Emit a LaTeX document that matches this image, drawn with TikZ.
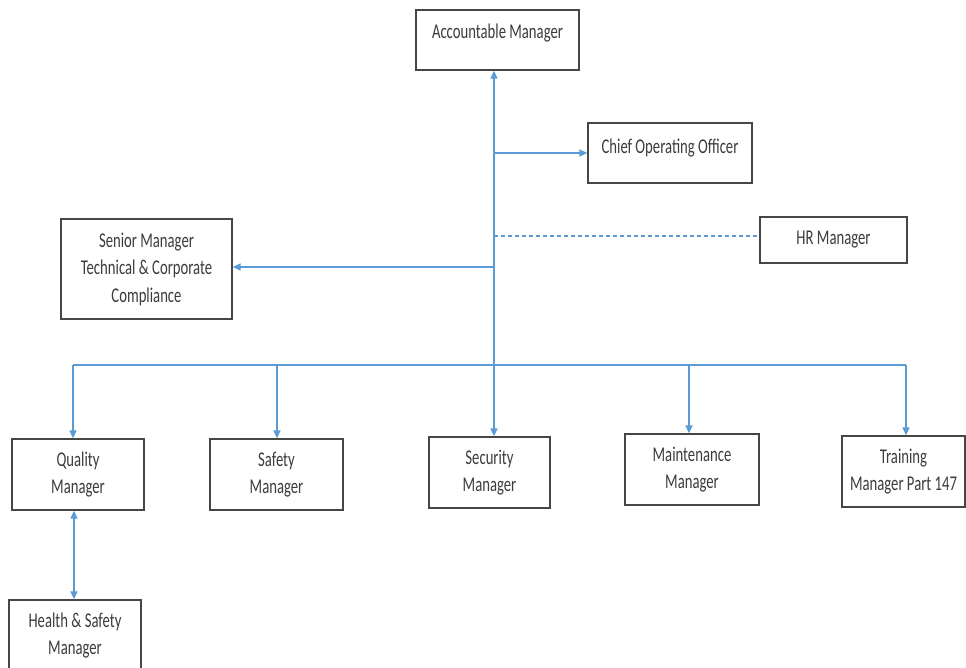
\documentclass[tikz,border=0pt]{standalone}
\usepackage{fontspec}
\setmainfont{Carlito}[FakeStretch=0.7]
\usetikzlibrary{arrows.meta}
\definecolor{flowblue}{RGB}{91,155,213}
\definecolor{boxgray}{RGB}{70,70,70}
\definecolor{txtgray}{RGB}{60,60,60}
\tikzset{
  orgbox/.style={draw=boxgray, line width=1.3pt, fill=white, text=txtgray,
    font=\fontsize{21}{27.5}\selectfont, align=center, inner sep=0pt},
  flow/.style={draw=flowblue, line width=1.4pt, -{Triangle[length=8pt,width=7pt]}},
  flowboth/.style={draw=flowblue, line width=1.4pt, {Triangle[length=8pt,width=7pt]}-{Triangle[length=8pt,width=7pt]}},
  flowplain/.style={draw=flowblue, line width=1.2pt},
  flowdash/.style={draw=flowblue, line width=1.2pt, dash pattern=on 4pt off 3pt}
}
\begin{document}
\begin{tikzpicture}[x=1pt,y=-1pt]
\useasboundingbox (0,0) rectangle (966,668);
\fill[white] (0,0) rectangle (966,668);

% boxes
\node[orgbox, minimum width=163pt, minimum height=60pt, text height=14pt, text depth=17.4pt] (am) at (497.5,40) {Accountable Manager};
\node[orgbox, minimum width=164pt, minimum height=60pt, text height=14pt, text depth=12pt] (coo) at (670,153) {Chief Operating Officer};
\node[orgbox, minimum width=147pt, minimum height=46pt, text height=14pt, text depth=5pt] (hr) at (833.5,240) {HR Manager};
\node[orgbox, minimum width=171pt, minimum height=100pt] (sm) at (146.5,269) {Senior Manager\\Technical \& Corporate\\Compliance};
\node[orgbox, minimum width=132pt, minimum height=71pt] (qm) at (78,474.5) {Quality\\Manager};
\node[orgbox, minimum width=133pt, minimum height=71pt] (sfm) at (276.5,474.5) {Safety\\Manager};
\node[orgbox, minimum width=121pt, minimum height=71pt] (sec) at (489.5,472.5) {Security\\Manager};
\node[orgbox, minimum width=134pt, minimum height=71pt] (mm) at (692,469.5) {Maintenance\\Manager};
\node[orgbox, minimum width=123pt, minimum height=71pt] (tm) at (903.5,471.5) {Training\\Manager Part 147};
\node[orgbox, minimum width=132pt, minimum height=71pt] (hs) at (75,635.5) {Health \& Safety\\Manager};

% helper coordinates
\coordinate (trunk) at (494,0);
\coordinate (busL) at (73,365);
\coordinate (busR) at (906,365);
\coordinate (dropS) at (277,365);
\coordinate (dropM) at (689,365);
\coordinate (hsx) at (74,0);
\coordinate (hrline) at (0,236);
\coordinate (smline) at (0,267);

% trunk
\draw[flowboth] (trunk |- am.south) -- (trunk |- sec.north);
\draw[flow] (trunk |- coo.west) -- (coo.west);
\draw[flowdash] (trunk |- hrline) -- (hr.west |- hrline);
\draw[flow] (trunk |- smline) -- (sm.east |- smline);

% bus
\draw[flowplain] (busL) -- (busR);
\draw[flow] (busL) -- (busL |- qm.north);
\draw[flow] (dropS) -- (dropS |- sfm.north);
\draw[flow] (dropM) -- (dropM |- mm.north);
\draw[flow] (busR) -- (busR |- tm.north);

% quality to health & safety
\draw[flowboth] (hsx |- qm.south) -- (hsx |- hs.north);
\end{tikzpicture}
\end{document}
